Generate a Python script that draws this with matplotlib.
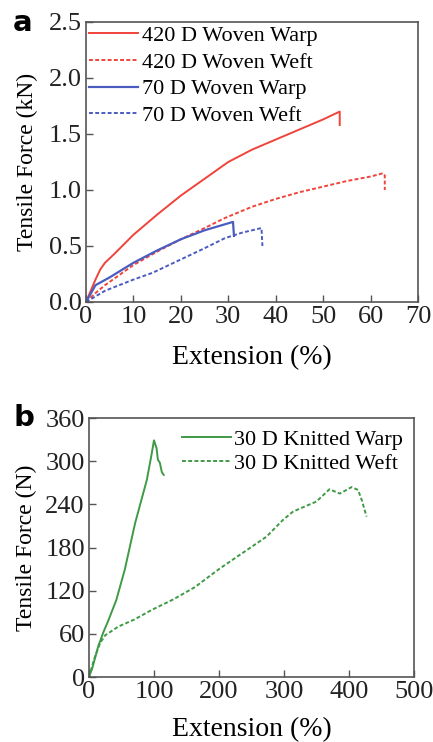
import numpy as np
import matplotlib
matplotlib.use('Agg')
import matplotlib.pyplot as plt

plt.rcParams['font.family'] = ['Liberation Serif', 'DejaVu Serif']

# panel a: woven fabrics, extension (%) vs force (kN)
x_420_warp = [0, 1, 2, 3, 4, 6, 10, 15, 20, 25, 30, 35, 40, 45, 50, 53.5, 53.5]
y_420_warp = [0, 0.10, 0.20, 0.29, 0.35, 0.43, 0.60, 0.78, 0.95, 1.10, 1.25, 1.36, 1.45, 1.54, 1.63, 1.70, 1.58]
x_420_weft = [0, 2, 4, 10, 15, 20, 25, 29.3, 35, 40, 45, 50, 55, 60, 62.7, 63, 63]
y_420_weft = [0, 0.08, 0.15, 0.33, 0.45, 0.56, 0.66, 0.75, 0.85, 0.92, 0.98, 1.03, 1.08, 1.12, 1.15, 1.13, 1.0]
x_70_warp = [0, 2, 5, 10, 15, 20, 25, 29, 31, 31.2]
y_70_warp = [0, 0.15, 0.22, 0.35, 0.46, 0.56, 0.64, 0.69, 0.715, 0.59]
x_70_weft = [0, 2, 4, 10, 14, 20, 25, 29.3, 33, 37, 37.2]
y_70_weft = [0, 0.05, 0.10, 0.20, 0.26, 0.38, 0.48, 0.57, 0.62, 0.66, 0.50]

# panel b: knitted fabric, extension (%) vs force (N)
x_30_warp = [0, 5, 14, 22, 30, 42, 55, 71, 89, 96, 100, 104, 106, 109, 112, 115]
y_30_warp = [0, 12, 42, 62, 79, 107, 149, 214, 274, 308, 329, 318, 302, 298, 285, 281]
x_30_weft = [0, 8, 17, 25, 45, 70, 96, 130, 163, 200, 221, 247, 273, 298, 314, 350, 370, 386, 404, 414, 420, 427]
y_30_weft = [0, 25, 47, 58, 70, 80, 93, 108, 125, 150, 163, 179, 195, 218, 230, 244, 261, 255, 264, 260, 245, 223]

red = '#f0433a'
blue = '#4a5cc0'
green = '#3f9a45'
spine_col = '#555555'

fig = plt.figure(figsize=(4.33, 7.42), dpi=100)

ax1 = fig.add_axes([0.1986, 0.593, 0.7667, 0.3774])
ax1.plot(x_420_warp, y_420_warp, color=red, lw=1.4, ls='-', label='420 D Woven Warp')
ax1.plot(x_420_weft, y_420_weft, color=red, lw=1.4, ls=(0, (2, 1.2)), label='420 D Woven Weft')
ax1.plot(x_70_warp, y_70_warp, color=blue, lw=1.6, ls='-', label='70 D Woven Warp')
ax1.plot(x_70_weft, y_70_weft, color=blue, lw=1.4, ls=(0, (2, 1.2)), label='70 D Woven Weft')
ax1.set_xlim(0, 70)
ax1.set_ylim(0, 2.5)
ax1.set_xticks(np.arange(0, 71, 10))
ax1.set_yticks(np.arange(0, 2.51, 0.5))
ax1.yaxis.set_major_formatter(matplotlib.ticker.FormatStrFormatter('%.1f'))
ax1.set_xlabel('Extension (%)', fontsize=20, labelpad=12)
ax1.set_ylabel('Tensile Force (kN)', fontsize=17, labelpad=8)
ax1.legend(loc='upper left', frameon=False, fontsize=16, handlelength=2.2,
           handletextpad=0.15, labelspacing=0.28, borderaxespad=0.1, borderpad=0.05)
ax1.text(-0.19, 0.997, 'a', transform=ax1.transAxes, fontsize=21, fontweight='bold',
         family='DejaVu Sans', va='center', ha='center')

ax2 = fig.add_axes([0.2055, 0.0876, 0.7506, 0.349])
ax2.plot(x_30_warp, y_30_warp, color=green, lw=1.4, ls='-', label='30 D Knitted Warp')
ax2.plot(x_30_weft, y_30_weft, color=green, lw=1.4, ls=(0, (2, 1.2)), label='30 D Knitted Weft')
ax2.set_xlim(0, 500)
ax2.set_ylim(0, 360)
ax2.set_xticks(np.arange(0, 501, 100))
ax2.set_yticks(np.arange(0, 361, 60))
ax2.set_xlabel('Extension (%)', fontsize=20, labelpad=10)
ax2.set_ylabel('Tensile Force (N)', fontsize=17, labelpad=6)
ax2.legend(loc='upper right', frameon=False, fontsize=16, handlelength=2.2,
           handletextpad=0.15, labelspacing=0.15, borderaxespad=0.3, borderpad=0.2)
ax2.text(-0.2, 1.0, 'b', transform=ax2.transAxes, fontsize=21, fontweight='bold',
         family='DejaVu Sans', va='center', ha='center')

for ax in (ax1, ax2):
    for s in ax.spines.values():
        s.set_color(spine_col)
        s.set_linewidth(1.2)
    ax.tick_params(direction='in', length=5, width=1, colors=spine_col, labelcolor='#222222',
                   labelsize=19, top=False, right=False, pad=3)

fig.savefig('out.png', dpi=100)
